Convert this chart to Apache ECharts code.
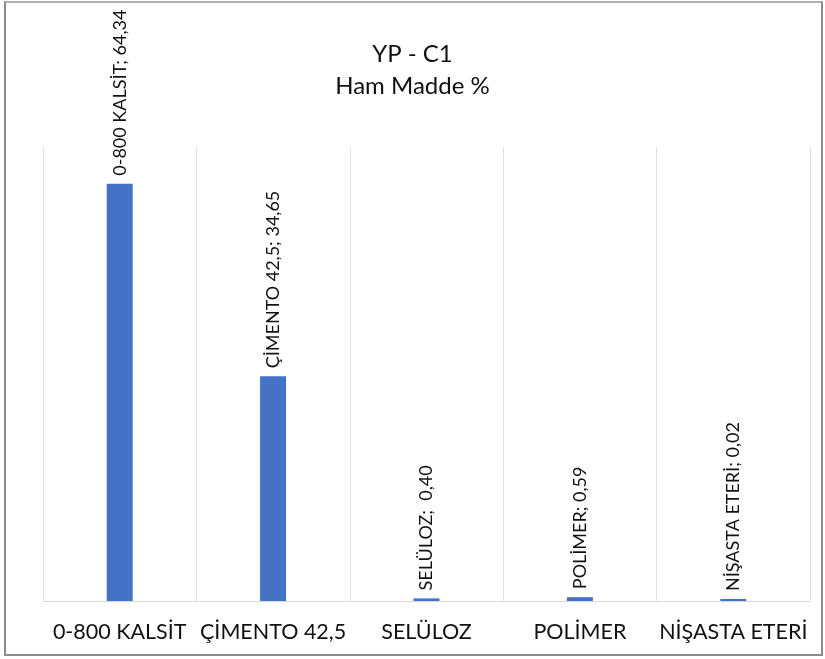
<!DOCTYPE html>
<html>
<head>
<meta charset="utf-8">
<script src="https://cdn.jsdelivr.net/npm/echarts@6/dist/echarts.min.js"></script>
<style>
html,body{margin:0;padding:0;background:#fff;}
#frame{position:absolute;left:4px;top:1px;width:815px;height:651px;border:2px solid #8c8c8c;border-top-color:#b0b0b0;}
#chart{position:absolute;left:0;top:0;width:825px;height:659px;}
</style>
</head>
<body>
<div id="frame"></div>
<div id="chart"></div>
<script>
const categories = ['0-800 KALSİT', 'ÇİMENTO 42,5', 'SELÜLOZ', 'POLİMER', 'NİŞASTA ETERİ'];
const values = [64.34, 34.65, 0.40, 0.59, 0.02];
const labelTexts = ['0-800 KALSİT; 64,34', 'ÇİMENTO 42,5; 34,65', 'SELÜLOZ;  0,40', 'POLİMER; 0,59', 'NİŞASTA ETERİ; 0,02'];
const titleLines = ['YP - C1', 'Ham Madde %'];

const calib = 'Lato, "Open Sans", sans-serif';

const chart = echarts.init(document.getElementById('chart'), null, {renderer: 'canvas'});
chart.setOption({
  backgroundColor: 'transparent',
  animation: false,
  title: {
    text: titleLines.join('\n'),
    left: 'center',
    top: 33,
    textStyle: {fontFamily: calib, fontSize: 24, fontWeight: 'normal', color: '#111', lineHeight: 32}
  },
  grid: {left: 43, right: 15, top: 147, bottom: 58, containLabel: false},
  xAxis: {
    type: 'category',
    data: categories,
    axisLine: {show: true, lineStyle: {color: '#d9d9d9', width: 1}},
    axisTick: {show: false},
    splitLine: {show: true, lineStyle: {color: '#e3e3e3', width: 1}},
    axisLabel: {interval: 0, margin: 20, fontFamily: calib, fontSize: 21.5, color: '#111'}
  },
  yAxis: {
    type: 'value',
    min: 0, max: 70,
    show: true,
    axisLine: {show: false}, axisTick: {show: false}, axisLabel: {show: false},
    splitLine: {show: false}
  },
  series: [{
    type: 'bar',
    data: values,
    barWidth: 26,
    barMinHeight: 2,
    itemStyle: {color: '#4472c4'},
    label: {
      show: true,
      position: 'top',
      rotate: 90,
      align: 'left',
      verticalAlign: 'middle',
      distance: 8,
      fontFamily: calib,
      fontSize: 18,
      color: '#111',
      formatter: p => labelTexts[p.dataIndex]
    }
  }]
});
</script>
</body>
</html>
